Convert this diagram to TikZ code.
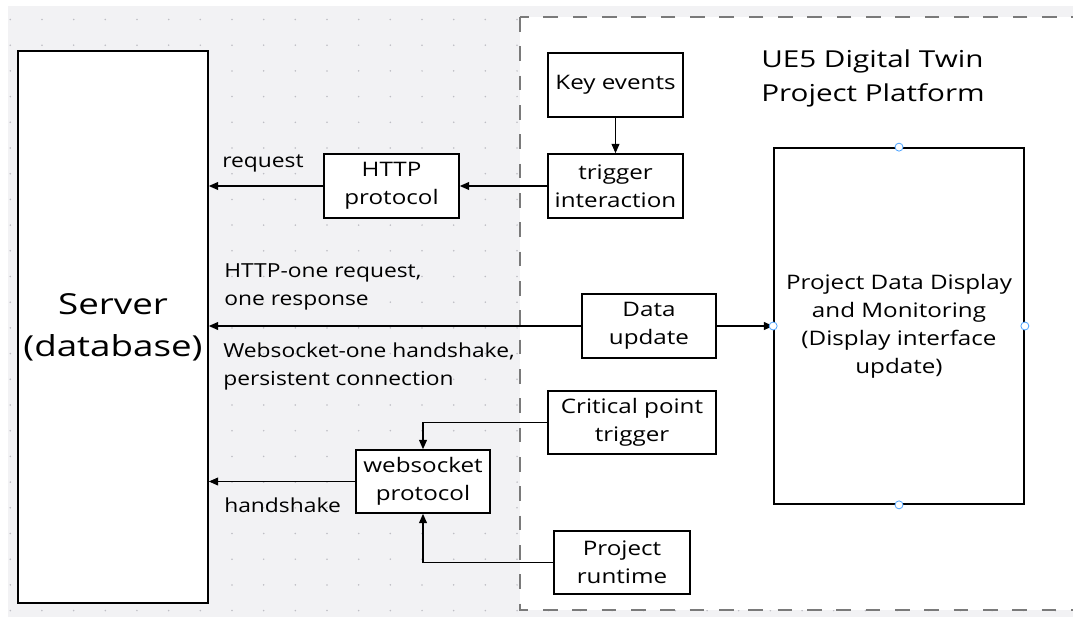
\documentclass[tikz,border=0pt]{standalone}
\usepackage{fontspec}
\setmainfont{Open Sans}
\newfontfamily\boxfont[FakeStretch=1.21]{Open Sans}
\newfontfamily\lblfont[FakeStretch=1.18]{Open Sans}
\newfontfamily\bigfont[FakeStretch=1.27]{Open Sans}
\newfontfamily\titlefont[FakeStretch=1.27]{Open Sans}
\usetikzlibrary{arrows.meta}
\definecolor{bggray}{HTML}{F2F2F4}
\definecolor{dotgray}{HTML}{BEBEC4}
\definecolor{dashgray}{HTML}{7A7A7A}
\definecolor{handleblue}{HTML}{4DA3FF}
\begin{document}
\begin{tikzpicture}[x=0.75pt,y=-0.75pt,
    box/.style={draw=black,line width=1.3pt,fill=white,align=center,inner sep=0pt,
      font=\boxfont\fontsize{15}{21}\selectfont},
    lbl/.style={anchor=west,align=left,inner sep=0pt,
      font=\lblfont\fontsize{14.5}{21}\selectfont},
    arr/.style={-{Triangle[length=7pt,width=6pt]},line width=0.8pt},
    handle/.style={circle,draw=handleblue,fill=white,line width=0.6pt,inner sep=0pt,minimum size=6pt}]
      \useasboundingbox (0,0) rectangle (1073,617);
      \fill[bggray] (8,6) rectangle (1073,617);
      \foreach \i in {0,...,33} \foreach \j in {0,...,23}
        \fill[dotgray] ({10.3+31.67*\i},{19.5+25.7*\j}) circle (0.65pt);
      \draw[dashgray,fill=white,line width=1pt,dash pattern=on 11pt off 11pt] (520,17) rectangle (1090,610);
      %\draw[very thin,lightgray] (0,0) grid[step=50] (1073,617);
      \node[box,minimum width=142.5pt,minimum height=414pt,
        font=\bigfont\fontsize{21.7}{31.5}\selectfont] (server) at (113,327) {Server\\(database)};
      \node[box,minimum width=101.25pt,minimum height=48pt] (http) at (391.5,186) {HTTP\\protocol};
      \node[box,minimum width=101.25pt,minimum height=48pt] (keyev) at (615.5,85) {Key events};
      \node[box,minimum width=101.25pt,minimum height=48pt] (trig) at (615.5,186) {trigger\\interaction};
      \node[box,minimum width=100.5pt,minimum height=48pt] (dataup) at (649,326) {Data\\update};
      \node[box,minimum width=126pt,minimum height=47.25pt] (crit) at (632,422.5) {Critical point\\trigger};
      \node[box,minimum width=100.5pt,minimum height=47.25pt] (ws) at (423,481.5) {websocket\\protocol};
      \node[box,minimum width=102pt,minimum height=47.25pt] (runtime) at (622,562.5) {Project\\runtime};
      \node[box,minimum width=187.5pt,minimum height=267pt] (disp) at (899,326)
        {Project Data Display\\and Monitoring\\(Display interface\\update)};
      \node[anchor=west,align=left,inner sep=0pt,font=\titlefont\fontsize{17.5}{25.5}\selectfont]
        (title) at (761,78) {UE5 Digital Twin\\Project Platform};
      \node[lbl] (lreq) at (222,163) {request};
      \node[lbl] (lhttp) at (224,286.5) {HTTP-one request,\\one response};
      \node[lbl] (lws) at (223,366.5) {Websocket-one handshake,\\persistent connection};
      \node[lbl] (lhand) at (224,505) {handshake};
      \draw[arr] (keyev) -- (trig);
      \draw[arr] (trig) -- (http);
      \draw[arr] (http) -- (http -| server.east);
      \draw[arr,{Triangle[length=7pt,width=6pt]}-] (server.east |- dataup) -- (dataup);
      \draw[arr] (dataup) -- (disp);
      \draw[arr] (crit.west) -| (ws.north);
      \draw[arr] (runtime.west) -| (ws.south);
      \draw[arr] (ws) -- (ws -| server.east);
      \foreach \a in {north,west,east,south}
        \node[handle] (h\a) at (disp.\a) {};
\end{tikzpicture}
\end{document}
